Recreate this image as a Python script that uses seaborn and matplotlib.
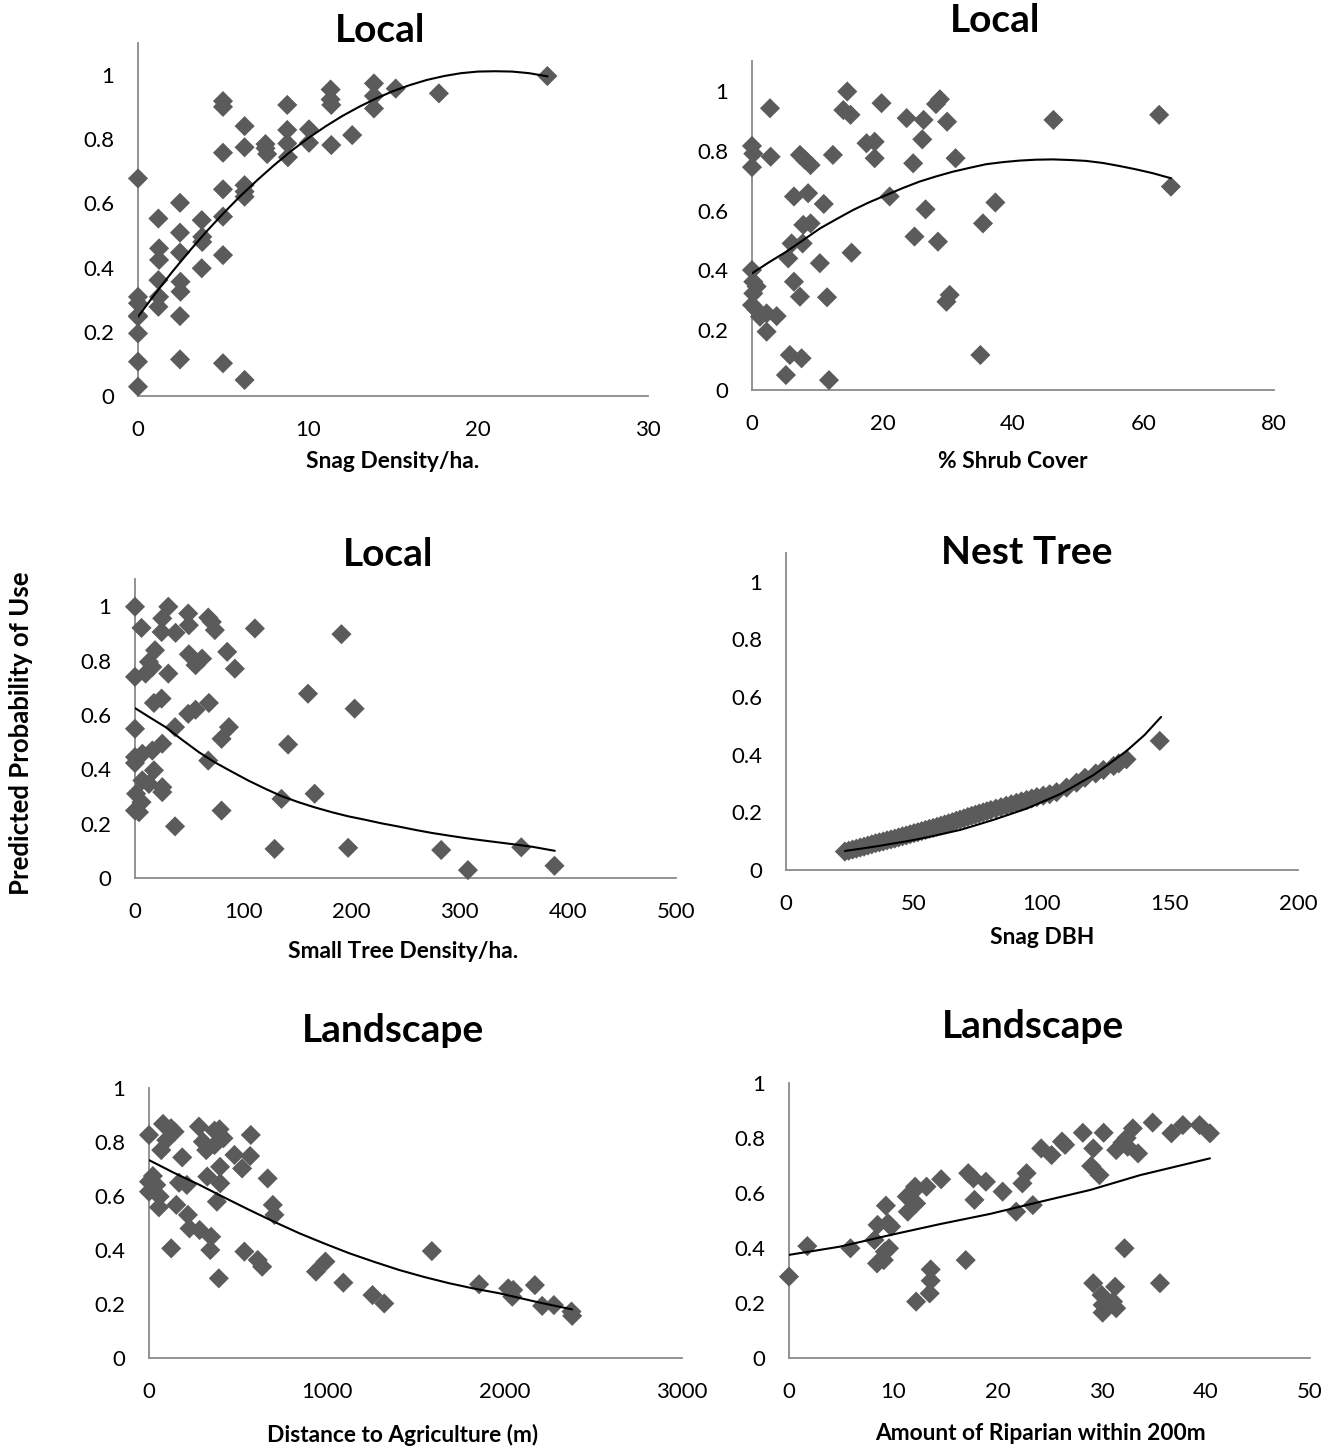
import numpy as np
import pandas as pd
import seaborn as sns
import matplotlib.pyplot as plt

# values
snag_x = [0, 0, 0, 0, 0, 0, 0, 0, 1.2, 1.24, 1.24, 1.2, 1.24, 1.2,
          2.47, 2.47, 2.47, 2.5, 2.5, 2.47, 2.47, 3.75, 3.78, 3.78, 3.75,
          5, 5, 5, 5, 5, 5, 5, 6.27, 6.27, 6.27, 6.27, 6.27, 6.27,
          7.5, 7.5, 7.6, 8.78, 8.78, 8.78, 8.82, 10.06, 10.06,
          11.33, 11.33, 11.37, 11.37, 12.6, 13.88, 13.88, 13.88, 15.16, 17.7, 24.08]
snag_y = [0.678, 0.309, 0.289, 0.247, 0.195, 0.107, 0.029, 0.25, 0.553, 0.46, 0.424, 0.361, 0.309, 0.278,
          0.602, 0.509, 0.447, 0.356, 0.325, 0.249, 0.114, 0.548, 0.496, 0.48, 0.398,
          0.919, 0.901, 0.758, 0.644, 0.559, 0.439, 0.102, 0.841, 0.775, 0.657, 0.637, 0.621, 0.05,
          0.785, 0.772, 0.754, 0.907, 0.829, 0.787, 0.744, 0.831, 0.789,
          0.955, 0.924, 0.907, 0.782, 0.813, 0.974, 0.935, 0.896, 0.958, 0.943, 0.997]
snag_trend_x = [0, 1, 2, 3, 4, 5, 6, 7, 8, 9, 10, 11, 12, 13, 14, 15, 16, 17, 18, 19, 20, 21, 22, 23, 24.1]
snag_trend_y = [0.247, 0.318, 0.386, 0.450, 0.511, 0.568, 0.622, 0.672, 0.719, 0.763, 0.803, 0.839, 0.872,
                0.901, 0.927, 0.950, 0.969, 0.985, 0.997, 1.006, 1.011, 1.012, 1.011, 1.006, 0.996]

shrub_x = [0, 0.2, 0, 2.76, 2.86, 0, 0.2, 0.71, 0.2, 0, 0.71, 1.22, 2.24, 3.78, 2.24,
           5.8, 7.6, 5.2, 11.8, 6.07, 7.76, 5.56, 6.43, 7.35, 10.4, 11.5,
           6.43, 8.6, 11.0, 7.86, 8.98, 7.35, 8.98, 8.1, 12.4, 14.0, 14.6, 15.1, 15.26,
           17.55, 18.8, 18.8, 19.85, 21.1, 23.7, 26.3, 24.7, 26.1, 24.9,
           26.6, 28.5, 28.2, 28.8, 29.9, 30.3, 29.8, 31.2, 35.4, 35.0, 37.3, 46.2, 62.4, 64.2]
shrub_y = [0.816, 0.79, 0.745, 0.942, 0.78, 0.401, 0.362, 0.346, 0.323, 0.284, 0.268, 0.245, 0.256, 0.247, 0.195,
           0.117, 0.106, 0.05, 0.033, 0.49, 0.49, 0.44, 0.362, 0.312, 0.424, 0.31,
           0.647, 0.658, 0.622, 0.552, 0.557, 0.786, 0.752, 0.77, 0.786, 0.936, 0.998, 0.92, 0.459,
           0.825, 0.83, 0.775, 0.959, 0.647, 0.909, 0.903, 0.758, 0.838, 0.513,
           0.604, 0.496, 0.956, 0.972, 0.897, 0.318, 0.295, 0.775, 0.557, 0.117, 0.627, 0.903, 0.92, 0.68]
shrub_trend_x = [0, 2.6, 5.3, 7.9, 10.4, 13, 15.5, 18, 20.6, 23.2, 25.7, 28.2, 30.8, 33.4, 35.9,
                 38.5, 41, 43.5, 46.1, 48.7, 51.2, 53.8, 56.3, 58.8, 61.4, 64.2]
shrub_trend_y = [0.39, 0.427, 0.463, 0.502, 0.54, 0.572, 0.602, 0.628, 0.652, 0.676, 0.697, 0.714, 0.73,
                 0.743, 0.755, 0.762, 0.767, 0.77, 0.771, 0.769, 0.766, 0.759, 0.749, 0.738, 0.725, 0.708]

tree_x = [0, 6, 0, 0, 0, 0, 1, 0, 3.7, 6, 30.8, 25.2, 24.6, 37.5,
          49.2, 49.8, 67.7, 73.8, 71, 18.5, 12.9, 9.8, 16, 30.8,
          49.8, 56, 62, 85.2, 92.3, 17.5, 24.6, 49.2, 56, 68.3, 37, 86.8, 80,
          16, 25.2, 6.8, 67.7, 17.5, 6.8, 12.9, 25.2, 25.2, 37, 80,
          110.8, 190.8, 159.9, 203, 141.5, 135.4, 166, 129, 197, 283, 307.7, 357, 387.7]
tree_y = [0.998, 0.92, 0.74, 0.549, 0.445, 0.423, 0.31, 0.248, 0.242, 0.279, 0.998, 0.955, 0.905, 0.902,
          0.973, 0.93, 0.958, 0.912, 0.942, 0.838, 0.795, 0.752, 0.776, 0.752,
          0.823, 0.783, 0.807, 0.832, 0.77, 0.644, 0.66, 0.604, 0.619, 0.644, 0.555, 0.555, 0.512,
          0.469, 0.494, 0.457, 0.432, 0.396, 0.359, 0.346, 0.316, 0.334, 0.19, 0.248,
          0.918, 0.897, 0.678, 0.623, 0.491, 0.291, 0.31, 0.107, 0.111, 0.103, 0.029, 0.113, 0.045]
tree_trend_x = [0, 14, 28.3, 43, 59, 74, 90, 105, 120.6, 135, 151, 166, 182, 197, 213, 228, 244,
                259, 274, 290, 305, 320, 336, 352, 367, 388]
tree_trend_y = [0.625, 0.59, 0.555, 0.51, 0.463, 0.425, 0.39, 0.358, 0.328, 0.302, 0.279, 0.26, 0.242,
                0.227, 0.214, 0.201, 0.189, 0.177, 0.166, 0.156, 0.147, 0.139, 0.131, 0.123, 0.115, 0.10]

dbh_x = [23, 24.5, 26, 27.5, 29, 30.5, 32, 33.5, 35, 36.5, 38, 39.5, 41, 42.5, 44, 45.5, 47, 48.5,
         50, 51.5, 53, 54.5, 56, 57.5, 59, 60.5, 62, 63.5, 65, 66.5, 68, 69.5, 71, 72.5, 74, 75.5,
         77, 78.5, 80, 82, 84, 86, 88, 90, 92, 94, 96, 98, 100.5, 103, 105.7, 109.6, 113.5,
         116.8, 121, 124, 128, 130, 133, 146]
dbh_y = [0.064, 0.067, 0.071, 0.074, 0.078, 0.081, 0.085, 0.089, 0.093, 0.096, 0.099, 0.103, 0.106,
         0.109, 0.113, 0.117, 0.12, 0.124, 0.128, 0.131, 0.135, 0.139, 0.143, 0.146, 0.15, 0.154,
         0.158, 0.162, 0.166, 0.171, 0.175, 0.179, 0.184, 0.188, 0.192, 0.196, 0.2, 0.204, 0.208,
         0.213, 0.218, 0.223, 0.228, 0.233, 0.238, 0.243, 0.248, 0.253, 0.258, 0.263, 0.27, 0.286,
         0.303, 0.32, 0.335, 0.347, 0.361, 0.37, 0.384, 0.448]
dbh_trend_x = [23, 30, 36, 41.9, 48, 55, 61, 68, 74, 81, 87, 94, 100, 107, 113, 120, 126, 133, 140, 146.5]
dbh_trend_y = [0.066, 0.075, 0.083, 0.092, 0.101, 0.113, 0.125, 0.139, 0.155, 0.174, 0.192, 0.213,
               0.236, 0.263, 0.293, 0.329, 0.367, 0.413, 0.468, 0.531]

ag_x = [0, 0, 0, 22, 41, 56, 60, 69, 79, 97, 124, 144, 125,
        187, 169, 213, 154, 219, 228, 285, 281, 303, 322, 328, 369, 397, 419, 369, 401, 382, 350, 345, 393, 400,
        481, 524, 569, 573, 668, 697, 706, 537, 612, 637, 940, 993, 1094, 1258, 1324, 1592,
        1858, 2022, 2045, 2050, 2172, 2213, 2279, 2378, 2382]
ag_y = [0.826, 0.653, 0.616, 0.674, 0.641, 0.558, 0.598, 0.77, 0.867, 0.807, 0.851, 0.838, 0.406,
        0.743, 0.649, 0.641, 0.567, 0.53, 0.48, 0.474, 0.857, 0.801, 0.77, 0.672, 0.842, 0.847, 0.814, 0.789,
        0.647, 0.579, 0.449, 0.4, 0.295, 0.708, 0.752, 0.702, 0.748, 0.826, 0.665, 0.567, 0.53,
        0.394, 0.363, 0.338, 0.32, 0.357, 0.279, 0.233, 0.202, 0.396,
        0.273, 0.258, 0.227, 0.252, 0.27, 0.193, 0.196, 0.172, 0.156]
ag_trend_x = [0, 140, 285, 425, 566, 706, 846, 987, 1127, 1268, 1408, 1549, 1689, 1830, 1970,
              2075, 2180, 2280, 2382]
ag_trend_y = [0.733, 0.686, 0.641, 0.594, 0.548, 0.504, 0.462, 0.424, 0.388, 0.356, 0.326, 0.3, 0.277,
              0.257, 0.24, 0.224, 0.208, 0.194, 0.18]

rip_x = [0, 1.76, 5.9, 8.45, 9.1, 9.2, 9.6, 8.2, 8.5, 9.5, 9.8, 9.3,
         11.4, 12.2, 11.3, 11.9, 12.1, 13.2, 14.6, 12.2, 13.5, 13.6, 13.6,
         16.96, 17.2, 17.7, 17.8, 18.9, 20.5, 21.8, 22.4, 22.8, 23.4, 24.2, 25.2, 26.2, 26.5,
         28.2, 29.2, 29.0, 29.8, 30.2, 29.2, 30.0, 31.3, 30.1, 30.1, 31.4, 31.1, 32.2, 35.6,
         31.4, 32.0, 32.5, 33.0, 33.5, 32.4, 34.9, 36.7, 37.8, 39.4, 40.4]
rip_y = [0.296, 0.407, 0.399, 0.344, 0.356, 0.387, 0.399, 0.429, 0.484, 0.49, 0.478, 0.554,
         0.532, 0.562, 0.587, 0.605, 0.623, 0.623, 0.65, 0.205, 0.235, 0.281, 0.322,
         0.356, 0.672, 0.653, 0.575, 0.641, 0.605, 0.532, 0.635, 0.672, 0.556, 0.762, 0.738, 0.787, 0.775,
         0.819, 0.762, 0.698, 0.665, 0.819, 0.272, 0.229, 0.259, 0.193, 0.165, 0.181, 0.205, 0.399, 0.272,
         0.756, 0.783, 0.768, 0.835, 0.744, 0.80, 0.856, 0.817, 0.847, 0.847, 0.817]
rip_trend_x = [0, 4.9, 9.7, 14.5, 19.3, 24.1, 28.9, 33.7, 37, 40.4]
rip_trend_y = [0.375, 0.405, 0.447, 0.487, 0.524, 0.568, 0.611, 0.665, 0.695, 0.726]

y_ticks = [0, 0.2, 0.4, 0.6, 0.8, 1]
y_tick_labels = ["0", "0.2", "0.4", "0.6", "0.8", "1"]

sns.set_style("white")
plt.rcParams["font.family"] = ["Lato", "DejaVu Sans"]
plt.rcParams["text.color"] = "black"

W, H = 1333, 1450
PT = "#5b5b5b"
AXC = "#8a8a8a"

fig = plt.figure(figsize=(W / 100, H / 100), dpi=100)


def box(left, right, bottom, top):
    return [left / W, 1 - bottom / H, (right - left) / W, (bottom - top) / H]


panels = [
    dict(x=snag_x, y=snag_y, tx=snag_trend_x, ty=snag_trend_y, pos=(138, 648, 396, 43), xmax=30, step=10,
         ytop=1.1, title="Local", tpos=(380, 30), xlabel="Snag Density/ha.", lpos=(393, 462)),
    dict(x=shrub_x, y=shrub_y, tx=shrub_trend_x, ty=shrub_trend_y, pos=(752, 1274, 390, 61), xmax=80, step=20,
         ytop=1.1, title="Local", tpos=(995, 20), xlabel="% Shrub Cover", lpos=(1013, 461)),
    dict(x=tree_x, y=tree_y, tx=tree_trend_x, ty=tree_trend_y, pos=(135, 676, 878, 579), xmax=500, step=100,
         ytop=1.1, title="Local", tpos=(388, 555), xlabel="Small Tree Density/ha.", lpos=(403, 951)),
    dict(x=dbh_x, y=dbh_y, tx=dbh_trend_x, ty=dbh_trend_y, pos=(786, 1298, 870, 553), xmax=200, step=50,
         ytop=1.1, title="Nest Tree", tpos=(1027, 553), xlabel="Snag DBH", lpos=(1042, 938)),
    dict(x=ag_x, y=ag_y, tx=ag_trend_x, ty=ag_trend_y, pos=(149, 682, 1358, 1088), xmax=3000, step=1000,
         ytop=1.0, title="Landscape", tpos=(393, 1030), xlabel="Distance to Agriculture (m)", lpos=(403, 1435)),
    dict(x=rip_x, y=rip_y, tx=rip_trend_x, ty=rip_trend_y, pos=(789, 1310, 1358, 1083), xmax=50, step=10,
         ytop=1.0, title="Landscape", tpos=(1033, 1027), xlabel="Amount of Riparian within 200m",
         lpos=(1040, 1433)),
]

for p in panels:
    ax = fig.add_axes(box(*p["pos"]))
    df = pd.DataFrame({"x": p["x"], "y": p["y"]})
    sns.scatterplot(data=df, x="x", y="y", marker="D", s=105, color=PT,
                    edgecolor="none", linewidth=0, ax=ax, zorder=3, clip_on=False)
    sns.lineplot(x=p["tx"], y=p["ty"], color="black", linewidth=1.5, ax=ax, zorder=4)
    ax.set_xlim(0, p["xmax"])
    ax.set_ylim(0, p["ytop"])
    xt = np.arange(0, p["xmax"] + 1, p["step"])
    ax.set_xticks(xt)
    ax.set_xticklabels([str(int(v)) for v in xt])
    ax.set_yticks(y_ticks)
    ax.set_yticklabels(y_tick_labels)
    ax.set_xlabel("")
    ax.set_ylabel("")
    for s in ["top", "right"]:
        ax.spines[s].set_visible(False)
    for s in ["left", "bottom"]:
        ax.spines[s].set_color(AXC)
        ax.spines[s].set_linewidth(1.3)
    ax.tick_params(axis="both", length=0, labelsize=16, colors="black")
    ax.tick_params(axis="x", pad=17)
    ax.tick_params(axis="y", pad=17)
    ax.patch.set_alpha(0)

    fig.text(p["tpos"][0] / W, 1 - p["tpos"][1] / H, p["title"], ha="center", va="center",
             fontsize=28, fontweight="bold", color="black")
    fig.text(p["lpos"][0] / W, 1 - p["lpos"][1] / H, p["xlabel"], ha="center", va="center",
             fontsize=16.4, fontweight="bold", color="black")

fig.text(21 / W, 1 - 733 / H, "Predicted Probability of Use", rotation=90, ha="center",
         va="center", fontsize=18.5, fontweight="bold", color="black")

fig.savefig("out.png", dpi=100)
